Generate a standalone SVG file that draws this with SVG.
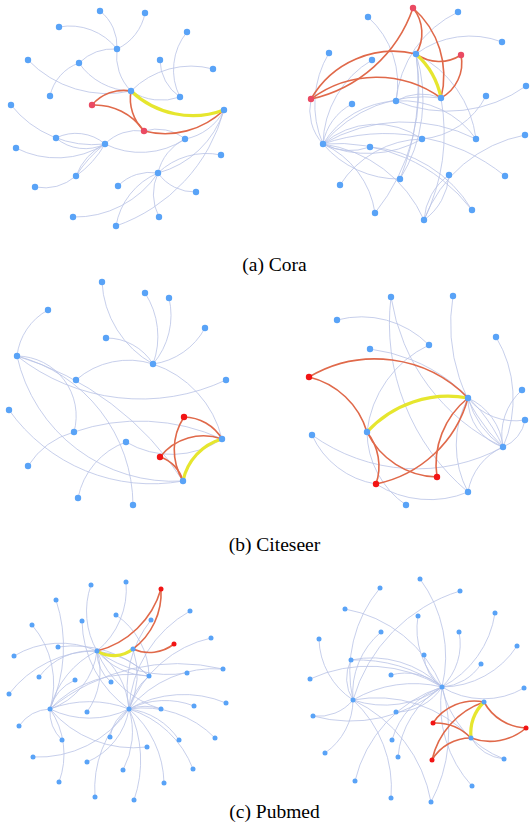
<svg xmlns="http://www.w3.org/2000/svg" width="531" height="825" viewBox="0 0 531 825">
<style>
.e{fill:none;stroke:#b9c3e6;stroke-width:0.8}
.r{fill:none;stroke:#e0694a;stroke-width:1.6}
.y{fill:none;stroke:#e6e62e;stroke-width:3.2;stroke-linecap:round}
.n{fill:#59a3f7}
.ra{fill:#ea4a62}
.rb{fill:#f21414}
.cap{font-family:"Liberation Serif","Times New Roman",serif;font-size:19.5px;fill:#000;text-anchor:middle}
</style>
<rect width="531" height="825" fill="#fff"/>
<g id="connectors">
<g id="edges-a1">
<path class="e" d="M100 11 A45 45 0 0 1 117 49"/>
<path class="e" d="M145 13 A50 50 0 0 1 117 49"/>
<path class="e" d="M59 27 A60 60 0 0 1 117 49"/>
<path class="e" d="M117 49 A50 50 0 0 0 79 63"/>
<path class="e" d="M50 96 A45 45 0 0 1 79 63"/>
<path class="e" d="M28 60 A110 110 0 0 0 131 91"/>
<path class="e" d="M79 63 A65 65 0 0 0 131 91"/>
<path class="e" d="M117 49 A50 50 0 0 0 131 91"/>
<path class="e" d="M131 91 A85 85 0 0 1 213 69"/>
<path class="e" d="M131 91 A55 55 0 0 0 180 97"/>
<path class="e" d="M160 60 A45 45 0 0 0 180 97"/>
<path class="e" d="M187 32 A60 60 0 0 0 180 97"/>
<path class="e" d="M11 105 A105 105 0 0 0 105 144"/>
<path class="e" d="M56 138 A45 45 0 0 1 105 144"/>
<path class="e" d="M56 138 A45 45 0 0 0 105 144"/>
<path class="e" d="M16 148 A90 90 0 0 0 105 144"/>
<path class="e" d="M105 144 A60 60 0 0 0 76 176"/>
<path class="e" d="M105 144 A120 120 0 0 0 76 176"/>
<path class="e" d="M105 144 A100 100 0 0 1 76 176"/>
<path class="e" d="M35 187 A50 50 0 0 0 76 176"/>
<path class="e" d="M105 144 A45 45 0 0 1 144 131"/>
<path class="e" d="M105 144 A80 80 0 0 0 185 139"/>
<path class="e" d="M158 173 A45 45 0 0 0 118 186"/>
<path class="e" d="M158 173 A45 45 0 0 0 196 192"/>
<path class="e" d="M158 173 A50 50 0 0 0 159 217"/>
<path class="e" d="M158 173 A70 70 0 0 0 116 226"/>
<path class="e" d="M158 173 A100 100 0 0 1 73 217"/>
<path class="e" d="M158 173 A70 70 0 0 1 221 155"/>
<path class="e" d="M158 173 A50 50 0 0 1 185 139"/>
<path class="e" d="M158 173 A95 95 0 0 0 224 110"/>
<path class="e" d="M224 110 A170 170 0 0 1 116 226"/>
<path class="e" d="M185 139 A55 55 0 0 0 224 110"/>
<path class="e" d="M144 131 A45 45 0 0 1 185 139"/>
<path class="r" d="M131 91 A42 42 0 0 0 92 105"/>
<path class="r" d="M92 105 A60 60 0 0 1 144 131"/>
<path class="r" d="M131 91 A45 45 0 0 0 144 131"/>
<path class="r" d="M144 131 A85 85 0 0 0 224 110"/>
<path class="y" d="M131 91 A90 90 0 0 0 224 110"/>
</g>
<g id="edges-a2">
<path class="e" d="M323 144 A50 50 0 0 1 311 99"/>
<path class="e" d="M323 144 A100 100 0 0 1 329 53"/>
<path class="e" d="M323 144 A55 55 0 0 1 352 104"/>
<path class="e" d="M323 144 A100 100 0 0 1 372 60"/>
<path class="e" d="M323 144 A90 90 0 0 1 396 101"/>
<path class="e" d="M323 144 A130 130 0 0 1 441 98"/>
<path class="e" d="M323 144 A80 80 0 0 1 422 139"/>
<path class="e" d="M323 144 A110 110 0 0 0 422 139"/>
<path class="e" d="M323 144 A160 160 0 0 1 476 139"/>
<path class="e" d="M323 144 A190 190 0 0 1 505 176"/>
<path class="e" d="M323 144 A60 60 0 0 0 370 147"/>
<path class="e" d="M323 144 A100 100 0 0 0 400 179"/>
<path class="e" d="M323 144 A130 130 0 0 1 424 220"/>
<path class="e" d="M323 144 A170 170 0 0 1 472 210"/>
<path class="e" d="M323 144 A90 90 0 0 1 375 213"/>
<path class="e" d="M368 17 A90 90 0 0 1 396 101"/>
<path class="e" d="M458 12 A110 110 0 0 0 396 101"/>
<path class="e" d="M502 42 A90 90 0 0 0 416 54"/>
<path class="e" d="M526 86 A135 135 0 0 1 396 101"/>
<path class="e" d="M486 96 A80 80 0 0 1 422 139"/>
<path class="e" d="M525 135 A135 135 0 0 0 424 220"/>
<path class="e" d="M449 175 A60 60 0 0 0 424 220"/>
<path class="e" d="M449 175 A60 60 0 0 1 424 220"/>
<path class="e" d="M476 139 A110 110 0 0 0 416 54"/>
<path class="e" d="M441 98 A200 200 0 0 1 424 220"/>
<path class="e" d="M416 54 A150 150 0 0 1 400 179"/>
<path class="e" d="M416 54 A250 250 0 0 1 400 179"/>
<path class="e" d="M416 54 A200 200 0 0 1 375 213"/>
<path class="e" d="M340 185 A100 100 0 0 1 422 139"/>
<path class="e" d="M370 147 A130 130 0 0 1 472 210"/>
<path class="e" d="M396 101 A90 90 0 0 1 476 139"/>
<path class="e" d="M396 101 A50 50 0 0 1 441 98"/>
<path class="r" d="M311 99 A140 140 0 0 0 413 8"/>
<path class="r" d="M311 99 A95 95 0 0 1 416 54"/>
<path class="r" d="M311 99 A110 110 0 0 1 441 98"/>
<path class="r" d="M413 8 A40 40 0 0 1 416 54"/>
<path class="r" d="M413 8 A90 90 0 0 1 441 98"/>
<path class="r" d="M461 55 A40 40 0 0 1 416 54"/>
<path class="r" d="M461 55 A40 40 0 0 1 441 98"/>
<path class="y" d="M416 54 A80 80 0 0 1 441 98"/>
</g>
<g id="edges-b1">
<path class="e" d="M102 282 A100 100 0 0 0 153 364"/>
<path class="e" d="M145 293 A80 80 0 0 1 153 364"/>
<path class="e" d="M169 298 A75 75 0 0 1 153 364"/>
<path class="e" d="M205 328 A70 70 0 0 1 153 364"/>
<path class="e" d="M106 338 A55 55 0 0 1 153 364"/>
<path class="e" d="M153 364 A80 80 0 0 0 76 380"/>
<path class="e" d="M153 364 A105 105 0 0 1 222 439"/>
<path class="e" d="M48 310 A60 60 0 0 0 17 356"/>
<path class="e" d="M17 356 A200 200 0 0 0 226 380"/>
<path class="e" d="M17 356 A60 60 0 0 1 74 432"/>
<path class="e" d="M17 356 A160 160 0 0 0 183 481"/>
<path class="e" d="M17 356 A300 300 0 0 1 183 481"/>
<path class="e" d="M17 356 A155 155 0 0 1 133 505"/>
<path class="e" d="M9 410 A175 175 0 0 0 183 481"/>
<path class="e" d="M74 432 A200 200 0 0 1 222 439"/>
<path class="e" d="M28 466 A80 80 0 0 1 74 432"/>
<path class="e" d="M126 442 A90 90 0 0 0 222 439"/>
<path class="e" d="M78 498 A75 75 0 0 1 126 442"/>
<path class="r" d="M184 417 A45 45 0 0 1 222 439"/>
<path class="r" d="M184 417 A60 60 0 0 0 183 481"/>
<path class="r" d="M160 457 A55 55 0 0 1 222 439"/>
<path class="r" d="M160 457 A35 35 0 0 1 183 481"/>
<path class="y" d="M222 439 A55 55 0 0 0 183 481"/>
</g>
<g id="edges-b2">
<path class="e" d="M337 320 A95 95 0 0 1 429 345"/>
<path class="e" d="M429 345 A110 110 0 0 0 367 432"/>
<path class="e" d="M370 349 A170 170 0 0 1 503 447"/>
<path class="e" d="M391 297 A200 200 0 0 0 503 447"/>
<path class="e" d="M391 297 A220 220 0 0 0 468 492"/>
<path class="e" d="M453 296 A170 170 0 0 0 503 447"/>
<path class="e" d="M496 337 A120 120 0 0 1 503 447"/>
<path class="e" d="M522 390 A60 60 0 0 0 503 447"/>
<path class="e" d="M525 420 A35 35 0 0 1 503 447"/>
<path class="e" d="M468 398 A60 60 0 0 0 525 420"/>
<path class="e" d="M468 398 A50 50 0 0 0 503 447"/>
<path class="e" d="M468 398 A60 60 0 0 1 503 447"/>
<path class="e" d="M468 398 A90 90 0 0 0 503 447"/>
<path class="e" d="M468 398 A100 100 0 0 0 468 492"/>
<path class="e" d="M312 435 A180 180 0 0 0 503 447"/>
<path class="e" d="M312 435 A85 85 0 0 0 376 484"/>
<path class="e" d="M376 484 A100 100 0 0 0 468 492"/>
<path class="e" d="M367 432 A90 90 0 0 0 406 505"/>
<path class="e" d="M503 447 A60 60 0 0 0 468 492"/>
<path class="r" d="M309 377 A130 130 0 0 1 468 398"/>
<path class="r" d="M309 377 A80 80 0 0 1 367 432"/>
<path class="r" d="M367 432 A80 80 0 0 0 437 477"/>
<path class="r" d="M367 432 A55 55 0 0 1 376 484"/>
<path class="r" d="M376 484 A120 120 0 0 0 468 398"/>
<path class="r" d="M437 477 A85 85 0 0 1 468 398"/>
<path class="y" d="M367 432 A110 110 0 0 1 468 398"/>
</g>
<g id="edges-c1">
<path class="e" d="M91 585 A80 80 0 0 0 97 651"/>
<path class="e" d="M126 582 A80 80 0 0 1 97 651"/>
<path class="e" d="M56 600 A150 150 0 0 1 50 709"/>
<path class="e" d="M32 625 A90 90 0 0 1 50 709"/>
<path class="e" d="M82 621 A110 110 0 0 0 129 709"/>
<path class="e" d="M116 615 A75 75 0 0 1 149 676"/>
<path class="e" d="M151 620 A110 110 0 0 0 129 709"/>
<path class="e" d="M190 611 A120 120 0 0 0 129 709"/>
<path class="e" d="M211 638 A115 115 0 0 0 129 709"/>
<path class="e" d="M14 656 A90 90 0 0 1 97 651"/>
<path class="e" d="M58 647 A110 110 0 0 1 149 676"/>
<path class="e" d="M39 677 A65 65 0 0 1 97 651"/>
<path class="e" d="M9 694 A110 110 0 0 1 97 651"/>
<path class="e" d="M75 680 A45 45 0 0 0 50 709"/>
<path class="e" d="M111 682 A40 40 0 0 1 97 651"/>
<path class="e" d="M97 651 A120 120 0 0 0 187 673"/>
<path class="e" d="M223 669 A110 110 0 0 0 129 709"/>
<path class="e" d="M226 703 A110 110 0 0 0 129 709"/>
<path class="e" d="M194 706 A80 80 0 0 0 129 709"/>
<path class="e" d="M161 709 A50 50 0 0 0 129 709"/>
<path class="e" d="M149 676 A60 60 0 0 0 129 709"/>
<path class="e" d="M215 738 A100 100 0 0 0 129 709"/>
<path class="e" d="M179 740 A70 70 0 0 0 129 709"/>
<path class="e" d="M50 709 A110 110 0 0 0 147 747"/>
<path class="e" d="M193 769 A100 100 0 0 0 129 709"/>
<path class="e" d="M164 783 A100 100 0 0 0 129 709"/>
<path class="e" d="M123 770 A80 80 0 0 0 129 709"/>
<path class="e" d="M87 712 A70 70 0 0 0 97 651"/>
<path class="e" d="M110 737 A40 40 0 0 1 129 709"/>
<path class="e" d="M62 740 A40 40 0 0 1 50 709"/>
<path class="e" d="M19 726 A40 40 0 0 1 50 709"/>
<path class="e" d="M33 757 A110 110 0 0 0 129 709"/>
<path class="e" d="M87 762 A70 70 0 0 0 129 709"/>
<path class="e" d="M59 782 A80 80 0 0 0 50 709"/>
<path class="e" d="M50 709 A90 90 0 0 0 129 709"/>
<path class="e" d="M50 709 A110 110 0 0 1 129 709"/>
<path class="e" d="M50 709 A110 110 0 0 1 149 676"/>
<path class="e" d="M50 709 A70 70 0 0 0 97 651"/>
<path class="e" d="M50 709 A90 90 0 0 1 97 651"/>
<path class="e" d="M50 709 A200 200 0 0 1 223 669"/>
<path class="e" d="M97 651 A80 80 0 0 1 129 709"/>
<path class="e" d="M97 651 A70 70 0 0 0 149 676"/>
<path class="e" d="M97 651 A90 90 0 0 1 149 676"/>
<path class="e" d="M97 651 A100 100 0 0 0 161 709"/>
<path class="e" d="M133 649 A80 80 0 0 1 129 709"/>
<path class="e" d="M129 709 A110 110 0 0 0 95 797"/>
<path class="e" d="M129 709 A120 120 0 0 1 134 800"/>
<path class="r" d="M97 651 A90 90 0 0 0 161 589"/>
<path class="r" d="M133 649 A70 70 0 0 0 161 589"/>
<path class="r" d="M133 649 A40 40 0 0 0 174 644"/>
<path class="y" d="M97 651 A32 32 0 0 0 133 649"/>
</g>
<g id="edges-c2">
<path class="e" d="M420 579 A130 130 0 0 1 442 687"/>
<path class="e" d="M380 588 A130 130 0 0 0 353 700"/>
<path class="e" d="M460 591 A160 160 0 0 0 353 700"/>
<path class="e" d="M345 609 A130 130 0 0 1 442 687"/>
<path class="e" d="M495 613 A100 100 0 0 1 442 687"/>
<path class="e" d="M418 616 A80 80 0 0 0 442 687"/>
<path class="e" d="M381 632 A80 80 0 0 0 353 700"/>
<path class="e" d="M459 632 A60 60 0 0 1 442 687"/>
<path class="e" d="M319 639 A75 75 0 0 0 353 700"/>
<path class="e" d="M517 646 A90 90 0 0 1 442 687"/>
<path class="e" d="M424 655 A40 40 0 0 0 442 687"/>
<path class="e" d="M351 660 A100 100 0 0 1 442 687"/>
<path class="e" d="M351 660 A150 150 0 0 1 442 687"/>
<path class="e" d="M351 660 A40 40 0 0 0 353 700"/>
<path class="e" d="M481 664 A50 50 0 0 1 442 687"/>
<path class="e" d="M310 679 A140 140 0 0 1 442 687"/>
<path class="e" d="M391 675 A55 55 0 0 1 442 687"/>
<path class="e" d="M524 688 A80 80 0 0 1 442 687"/>
<path class="e" d="M442 687 A100 100 0 0 1 353 700"/>
<path class="e" d="M442 687 A120 120 0 0 0 353 700"/>
<path class="e" d="M442 687 A55 55 0 0 1 396 712"/>
<path class="e" d="M442 687 A80 80 0 0 0 392 740"/>
<path class="e" d="M442 687 A90 90 0 0 0 398 757"/>
<path class="e" d="M442 687 A130 130 0 0 0 355 781"/>
<path class="e" d="M442 687 A150 150 0 0 1 431 802"/>
<path class="e" d="M442 687 A120 120 0 0 0 472 786"/>
<path class="e" d="M442 687 A100 100 0 0 0 504 759"/>
<path class="e" d="M353 700 A45 45 0 0 1 313 716"/>
<path class="e" d="M353 700 A65 65 0 0 1 325 753"/>
<path class="e" d="M353 700 A120 120 0 0 1 391 798"/>
<path class="e" d="M353 700 A140 140 0 0 1 431 802"/>
<path class="e" d="M353 700 A130 130 0 0 1 471 738"/>
<path class="e" d="M313 716 A140 140 0 0 0 442 687"/>
<path class="e" d="M504 759 A45 45 0 0 1 471 738"/>
<path class="r" d="M433 723 A50 50 0 0 1 484 702"/>
<path class="r" d="M433 723 A50 50 0 0 1 471 738"/>
<path class="r" d="M432 760 A80 80 0 0 1 484 702"/>
<path class="r" d="M432 760 A45 45 0 0 1 471 738"/>
<path class="r" d="M484 702 A50 50 0 0 0 526 728"/>
<path class="r" d="M471 738 A55 55 0 0 0 526 728"/>
<path class="y" d="M484 702 A45 45 0 0 0 471 738"/>
</g>
</g>
<g id="nodes-a1">
<g id="a1"><circle class="n" cx="100" cy="11" r="3.2"/></g>
<g id="a2"><circle class="n" cx="145" cy="13" r="3.2"/></g>
<g id="a3"><circle class="n" cx="59" cy="27" r="3.2"/></g>
<g id="a4"><circle class="n" cx="117" cy="49" r="3.2"/></g>
<g id="a5"><circle class="n" cx="187" cy="32" r="3.2"/></g>
<g id="a6"><circle class="n" cx="28" cy="60" r="3.2"/></g>
<g id="a7"><circle class="n" cx="79" cy="63" r="3.2"/></g>
<g id="a8"><circle class="n" cx="160" cy="60" r="3.2"/></g>
<g id="a9"><circle class="n" cx="213" cy="69" r="3.2"/></g>
<g id="a10"><circle class="n" cx="50" cy="96" r="3.2"/></g>
<g id="a11"><circle class="n" cx="131" cy="91" r="3.2"/></g>
<g id="a12"><circle class="n" cx="180" cy="97" r="3.2"/></g>
<g id="a13"><circle class="ra" cx="92" cy="105" r="3.2"/></g>
<g id="a14"><circle class="n" cx="224" cy="110" r="3.2"/></g>
<g id="a15"><circle class="n" cx="11" cy="105" r="3.2"/></g>
<g id="a16"><circle class="ra" cx="144" cy="131" r="3.2"/></g>
<g id="a17"><circle class="n" cx="56" cy="138" r="3.2"/></g>
<g id="a18"><circle class="n" cx="105" cy="144" r="3.2"/></g>
<g id="a19"><circle class="n" cx="185" cy="139" r="3.2"/></g>
<g id="a20"><circle class="n" cx="16" cy="148" r="3.2"/></g>
<g id="a21"><circle class="n" cx="221" cy="155" r="3.2"/></g>
<g id="a22"><circle class="n" cx="158" cy="173" r="3.2"/></g>
<g id="a23"><circle class="n" cx="76" cy="176" r="3.2"/></g>
<g id="a24"><circle class="n" cx="118" cy="186" r="3.2"/></g>
<g id="a25"><circle class="n" cx="196" cy="192" r="3.2"/></g>
<g id="a26"><circle class="n" cx="35" cy="187" r="3.2"/></g>
<g id="a27"><circle class="n" cx="73" cy="217" r="3.2"/></g>
<g id="a28"><circle class="n" cx="159" cy="217" r="3.2"/></g>
<g id="a29"><circle class="n" cx="116" cy="226" r="3.2"/></g>
</g>
<g id="nodes-a2">
<g id="b1"><circle class="ra" cx="413" cy="8" r="3.2"/></g>
<g id="b2"><circle class="n" cx="458" cy="12" r="3.2"/></g>
<g id="b3"><circle class="n" cx="368" cy="17" r="3.2"/></g>
<g id="b4"><circle class="n" cx="502" cy="42" r="3.2"/></g>
<g id="b5"><circle class="n" cx="329" cy="53" r="3.2"/></g>
<g id="b6"><circle class="n" cx="372" cy="60" r="3.2"/></g>
<g id="b7"><circle class="n" cx="416" cy="54" r="3.2"/></g>
<g id="b8"><circle class="ra" cx="461" cy="55" r="3.2"/></g>
<g id="b9"><circle class="n" cx="526" cy="86" r="3.2"/></g>
<g id="b10"><circle class="ra" cx="311" cy="99" r="3.2"/></g>
<g id="b11"><circle class="n" cx="441" cy="98" r="3.2"/></g>
<g id="b12"><circle class="n" cx="396" cy="101" r="3.2"/></g>
<g id="b13"><circle class="n" cx="486" cy="96" r="3.2"/></g>
<g id="b14"><circle class="n" cx="352" cy="104" r="3.2"/></g>
<g id="b15"><circle class="n" cx="323" cy="144" r="3.2"/></g>
<g id="b16"><circle class="n" cx="370" cy="147" r="3.2"/></g>
<g id="b17"><circle class="n" cx="422" cy="139" r="3.2"/></g>
<g id="b18"><circle class="n" cx="476" cy="139" r="3.2"/></g>
<g id="b19"><circle class="n" cx="525" cy="135" r="3.2"/></g>
<g id="b20"><circle class="n" cx="400" cy="179" r="3.2"/></g>
<g id="b21"><circle class="n" cx="449" cy="175" r="3.2"/></g>
<g id="b22"><circle class="n" cx="505" cy="176" r="3.2"/></g>
<g id="b23"><circle class="n" cx="340" cy="185" r="3.2"/></g>
<g id="b24"><circle class="n" cx="375" cy="213" r="3.2"/></g>
<g id="b25"><circle class="n" cx="424" cy="220" r="3.2"/></g>
<g id="b26"><circle class="n" cx="472" cy="210" r="3.2"/></g>
</g>
<g id="nodes-b1">
<g id="c1"><circle class="n" cx="102" cy="282" r="3.2"/></g>
<g id="c2"><circle class="n" cx="145" cy="293" r="3.2"/></g>
<g id="c3"><circle class="n" cx="169" cy="298" r="3.2"/></g>
<g id="c4"><circle class="n" cx="48" cy="310" r="3.2"/></g>
<g id="c5"><circle class="n" cx="205" cy="328" r="3.2"/></g>
<g id="c6"><circle class="n" cx="106" cy="338" r="3.2"/></g>
<g id="c7"><circle class="n" cx="17" cy="356" r="3.2"/></g>
<g id="c8"><circle class="n" cx="153" cy="364" r="3.2"/></g>
<g id="c9"><circle class="n" cx="76" cy="380" r="3.2"/></g>
<g id="c10"><circle class="n" cx="226" cy="380" r="3.2"/></g>
<g id="c11"><circle class="n" cx="9" cy="410" r="3.2"/></g>
<g id="c12"><circle class="rb" cx="184" cy="417" r="3.2"/></g>
<g id="c13"><circle class="n" cx="74" cy="432" r="3.2"/></g>
<g id="c14"><circle class="n" cx="222" cy="439" r="3.2"/></g>
<g id="c15"><circle class="n" cx="126" cy="442" r="3.2"/></g>
<g id="c16"><circle class="rb" cx="160" cy="457" r="3.2"/></g>
<g id="c17"><circle class="n" cx="28" cy="466" r="3.2"/></g>
<g id="c18"><circle class="n" cx="183" cy="481" r="3.2"/></g>
<g id="c19"><circle class="n" cx="78" cy="498" r="3.2"/></g>
<g id="c20"><circle class="n" cx="133" cy="505" r="3.2"/></g>
</g>
<g id="nodes-b2">
<g id="d1"><circle class="n" cx="391" cy="297" r="3.2"/></g>
<g id="d2"><circle class="n" cx="453" cy="296" r="3.2"/></g>
<g id="d3"><circle class="n" cx="337" cy="320" r="3.2"/></g>
<g id="d4"><circle class="n" cx="496" cy="337" r="3.2"/></g>
<g id="d5"><circle class="n" cx="370" cy="349" r="3.2"/></g>
<g id="d6"><circle class="n" cx="429" cy="345" r="3.2"/></g>
<g id="d7"><circle class="rb" cx="309" cy="377" r="3.2"/></g>
<g id="d8"><circle class="n" cx="522" cy="390" r="3.2"/></g>
<g id="d9"><circle class="n" cx="468" cy="398" r="3.2"/></g>
<g id="d10"><circle class="n" cx="525" cy="420" r="3.2"/></g>
<g id="d11"><circle class="n" cx="367" cy="432" r="3.2"/></g>
<g id="d12"><circle class="n" cx="312" cy="435" r="3.2"/></g>
<g id="d13"><circle class="n" cx="503" cy="447" r="3.2"/></g>
<g id="d14"><circle class="rb" cx="437" cy="477" r="3.2"/></g>
<g id="d15"><circle class="rb" cx="376" cy="484" r="3.2"/></g>
<g id="d16"><circle class="n" cx="468" cy="492" r="3.2"/></g>
<g id="d17"><circle class="n" cx="406" cy="505" r="3.2"/></g>
</g>
<g id="nodes-c1">
<g id="e1"><circle class="n" cx="91" cy="585" r="2.5"/></g>
<g id="e2"><circle class="n" cx="126" cy="582" r="2.5"/></g>
<g id="e3"><circle class="rb" cx="161" cy="589" r="2.5"/></g>
<g id="e4"><circle class="n" cx="56" cy="600" r="2.5"/></g>
<g id="e5"><circle class="n" cx="190" cy="611" r="2.5"/></g>
<g id="e6"><circle class="n" cx="116" cy="615" r="2.5"/></g>
<g id="e7"><circle class="n" cx="32" cy="625" r="2.5"/></g>
<g id="e8"><circle class="n" cx="82" cy="621" r="2.5"/></g>
<g id="e9"><circle class="n" cx="151" cy="620" r="2.5"/></g>
<g id="e10"><circle class="n" cx="211" cy="638" r="2.5"/></g>
<g id="e11"><circle class="rb" cx="174" cy="644" r="2.5"/></g>
<g id="e12"><circle class="n" cx="58" cy="647" r="2.5"/></g>
<g id="e13"><circle class="n" cx="97" cy="651" r="2.5"/></g>
<g id="e14"><circle class="n" cx="133" cy="649" r="2.5"/></g>
<g id="e15"><circle class="n" cx="14" cy="656" r="2.5"/></g>
<g id="e16"><circle class="n" cx="223" cy="669" r="2.5"/></g>
<g id="e17"><circle class="n" cx="187" cy="673" r="2.5"/></g>
<g id="e18"><circle class="n" cx="39" cy="677" r="2.5"/></g>
<g id="e19"><circle class="n" cx="75" cy="680" r="2.5"/></g>
<g id="e20"><circle class="n" cx="149" cy="676" r="2.5"/></g>
<g id="e21"><circle class="n" cx="111" cy="682" r="2.5"/></g>
<g id="e22"><circle class="n" cx="9" cy="694" r="2.5"/></g>
<g id="e23"><circle class="n" cx="226" cy="703" r="2.5"/></g>
<g id="e24"><circle class="n" cx="50" cy="709" r="2.5"/></g>
<g id="e25"><circle class="n" cx="129" cy="709" r="2.5"/></g>
<g id="e26"><circle class="n" cx="87" cy="712" r="2.5"/></g>
<g id="e27"><circle class="n" cx="161" cy="709" r="2.5"/></g>
<g id="e28"><circle class="n" cx="194" cy="706" r="2.5"/></g>
<g id="e29"><circle class="n" cx="19" cy="726" r="2.5"/></g>
<g id="e30"><circle class="n" cx="110" cy="737" r="2.5"/></g>
<g id="e31"><circle class="n" cx="179" cy="740" r="2.5"/></g>
<g id="e32"><circle class="n" cx="215" cy="738" r="2.5"/></g>
<g id="e33"><circle class="n" cx="62" cy="740" r="2.5"/></g>
<g id="e34"><circle class="n" cx="147" cy="747" r="2.5"/></g>
<g id="e35"><circle class="n" cx="33" cy="757" r="2.5"/></g>
<g id="e36"><circle class="n" cx="87" cy="762" r="2.5"/></g>
<g id="e37"><circle class="n" cx="123" cy="770" r="2.5"/></g>
<g id="e38"><circle class="n" cx="193" cy="769" r="2.5"/></g>
<g id="e39"><circle class="n" cx="59" cy="782" r="2.5"/></g>
<g id="e40"><circle class="n" cx="164" cy="783" r="2.5"/></g>
<g id="e41"><circle class="n" cx="95" cy="797" r="2.5"/></g>
<g id="e42"><circle class="n" cx="134" cy="800" r="2.5"/></g>
</g>
<g id="nodes-c2">
<g id="f1"><circle class="n" cx="420" cy="579" r="2.5"/></g>
<g id="f2"><circle class="n" cx="380" cy="588" r="2.5"/></g>
<g id="f3"><circle class="n" cx="460" cy="591" r="2.5"/></g>
<g id="f4"><circle class="n" cx="345" cy="609" r="2.5"/></g>
<g id="f5"><circle class="n" cx="495" cy="613" r="2.5"/></g>
<g id="f6"><circle class="n" cx="418" cy="616" r="2.5"/></g>
<g id="f7"><circle class="n" cx="381" cy="632" r="2.5"/></g>
<g id="f8"><circle class="n" cx="459" cy="632" r="2.5"/></g>
<g id="f9"><circle class="n" cx="319" cy="639" r="2.5"/></g>
<g id="f10"><circle class="n" cx="517" cy="646" r="2.5"/></g>
<g id="f11"><circle class="n" cx="424" cy="655" r="2.5"/></g>
<g id="f12"><circle class="n" cx="351" cy="660" r="2.5"/></g>
<g id="f13"><circle class="n" cx="481" cy="664" r="2.5"/></g>
<g id="f14"><circle class="n" cx="310" cy="679" r="2.5"/></g>
<g id="f15"><circle class="n" cx="391" cy="675" r="2.5"/></g>
<g id="f16"><circle class="n" cx="442" cy="687" r="2.5"/></g>
<g id="f17"><circle class="n" cx="524" cy="688" r="2.5"/></g>
<g id="f18"><circle class="n" cx="353" cy="700" r="2.5"/></g>
<g id="f19"><circle class="n" cx="484" cy="702" r="2.5"/></g>
<g id="f20"><circle class="n" cx="396" cy="712" r="2.5"/></g>
<g id="f21"><circle class="n" cx="313" cy="716" r="2.5"/></g>
<g id="f22"><circle class="rb" cx="433" cy="723" r="2.5"/></g>
<g id="f23"><circle class="rb" cx="526" cy="728" r="2.5"/></g>
<g id="f24"><circle class="n" cx="471" cy="738" r="2.5"/></g>
<g id="f25"><circle class="n" cx="392" cy="740" r="2.5"/></g>
<g id="f26"><circle class="n" cx="325" cy="753" r="2.5"/></g>
<g id="f27"><circle class="n" cx="398" cy="757" r="2.5"/></g>
<g id="f28"><circle class="n" cx="504" cy="759" r="2.5"/></g>
<g id="f29"><circle class="rb" cx="432" cy="760" r="2.5"/></g>
<g id="f30"><circle class="n" cx="355" cy="781" r="2.5"/></g>
<g id="f31"><circle class="n" cx="472" cy="786" r="2.5"/></g>
<g id="f32"><circle class="n" cx="391" cy="798" r="2.5"/></g>
<g id="f33"><circle class="n" cx="431" cy="802" r="2.5"/></g>
</g>
<g id="captions">
<text class="cap" x="274.5" y="271">(a) Cora</text>
<text class="cap" x="274.5" y="551">(b) Citeseer</text>
<text class="cap" x="274.5" y="818">(c) Pubmed</text>
</g>
</svg>
